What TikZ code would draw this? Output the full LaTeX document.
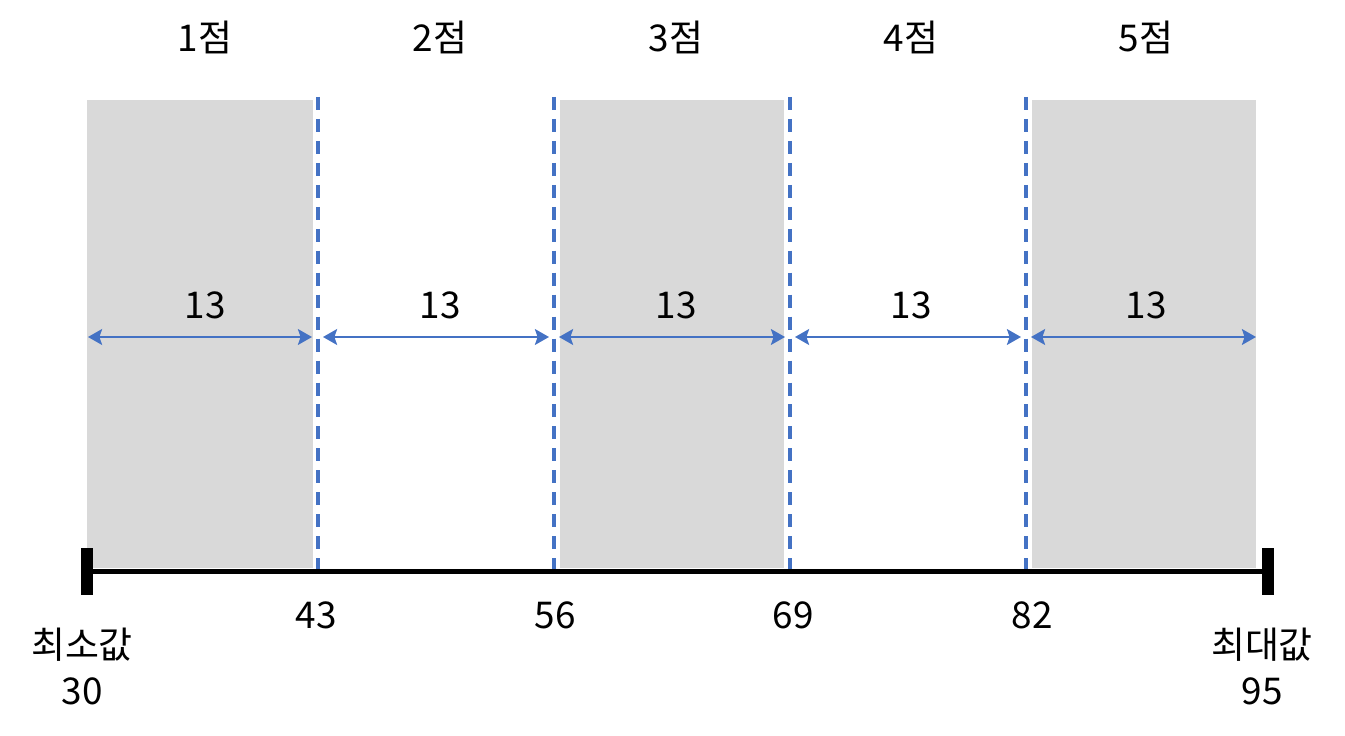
\documentclass[tikz,border=0pt]{standalone}
\usepackage{fontspec}
\setmainfont{Noto Sans CJK KR}
\usetikzlibrary{arrows.meta}
\definecolor{bandgray}{HTML}{D9D9D9}
\definecolor{cutblue}{HTML}{4472C4}
\tikzset{
  every picture/.style={>=Stealth},
  band/.style={fill=bandgray, draw=none},
  cut/.style={cutblue, line width=1.9pt, dash pattern=on 7.4pt off 5.1pt},
  span/.style={{Stealth[length=8pt,width=9pt,inset=1.5pt]}-{Stealth[length=8pt,width=9pt,inset=1.5pt]}, cutblue, line width=1.3pt},
  lbl/.style={font=\fontsize{21}{25}\selectfont, inner sep=0pt},
  axisline/.style={line width=3.4pt},
  endbar/.style={fill=black, inner sep=0pt, minimum width=0.23cm, minimum height=0.94cm},
}

\begin{document}
\begin{tikzpicture}[x=0.02cm, y=-0.02cm]
  \useasboundingbox (0,0) rectangle (1345,736);
  % shaded score bands
  \foreach \xa/\xb in {87/313, 560/784, 1032/1256}
    \fill[band] (\xa,100) rectangle (\xb,568);
  % cut points
  \foreach \x in {318,554,790,1026}
    \draw[cut] (\x,97) -- (\x,572);
  % band widths and score labels
  \foreach \n/\xa/\xb/\xm in {1/88/312/205, 2/323/549/440, 3/559/785/676, 4/795/1021/911, 5/1031/1256/1146} {
    \coordinate (l\n) at (\xa,337);
    \coordinate (r\n) at (\xb,337);
    \draw[span] (l\n) -- (r\n);
    \node[lbl] (w\n) at (\xm,305) {13};
    \node[lbl] (s\n) at (\xm,37) {\n{}점};
  }
  % axis
  \node[endbar] (minbar) at (87,571.5) {};
  \node[endbar] (maxbar) at (1268,571.5) {};
  \draw[axisline] (minbar.center) -- (maxbar.center);
  \foreach \x/\v in {316/43, 555/56, 793/69, 1032/82}
    \node[lbl] (t\v) at (\x,615) {\v};
  \node[lbl] (minname) at (82,645) {최소값};
  \node[lbl] (minval) at (82,691) {30};
  \node[lbl] (maxname) at (1262,645) {최대값};
  \node[lbl] (maxval) at (1262,691) {95};
\end{tikzpicture}
\end{document}
